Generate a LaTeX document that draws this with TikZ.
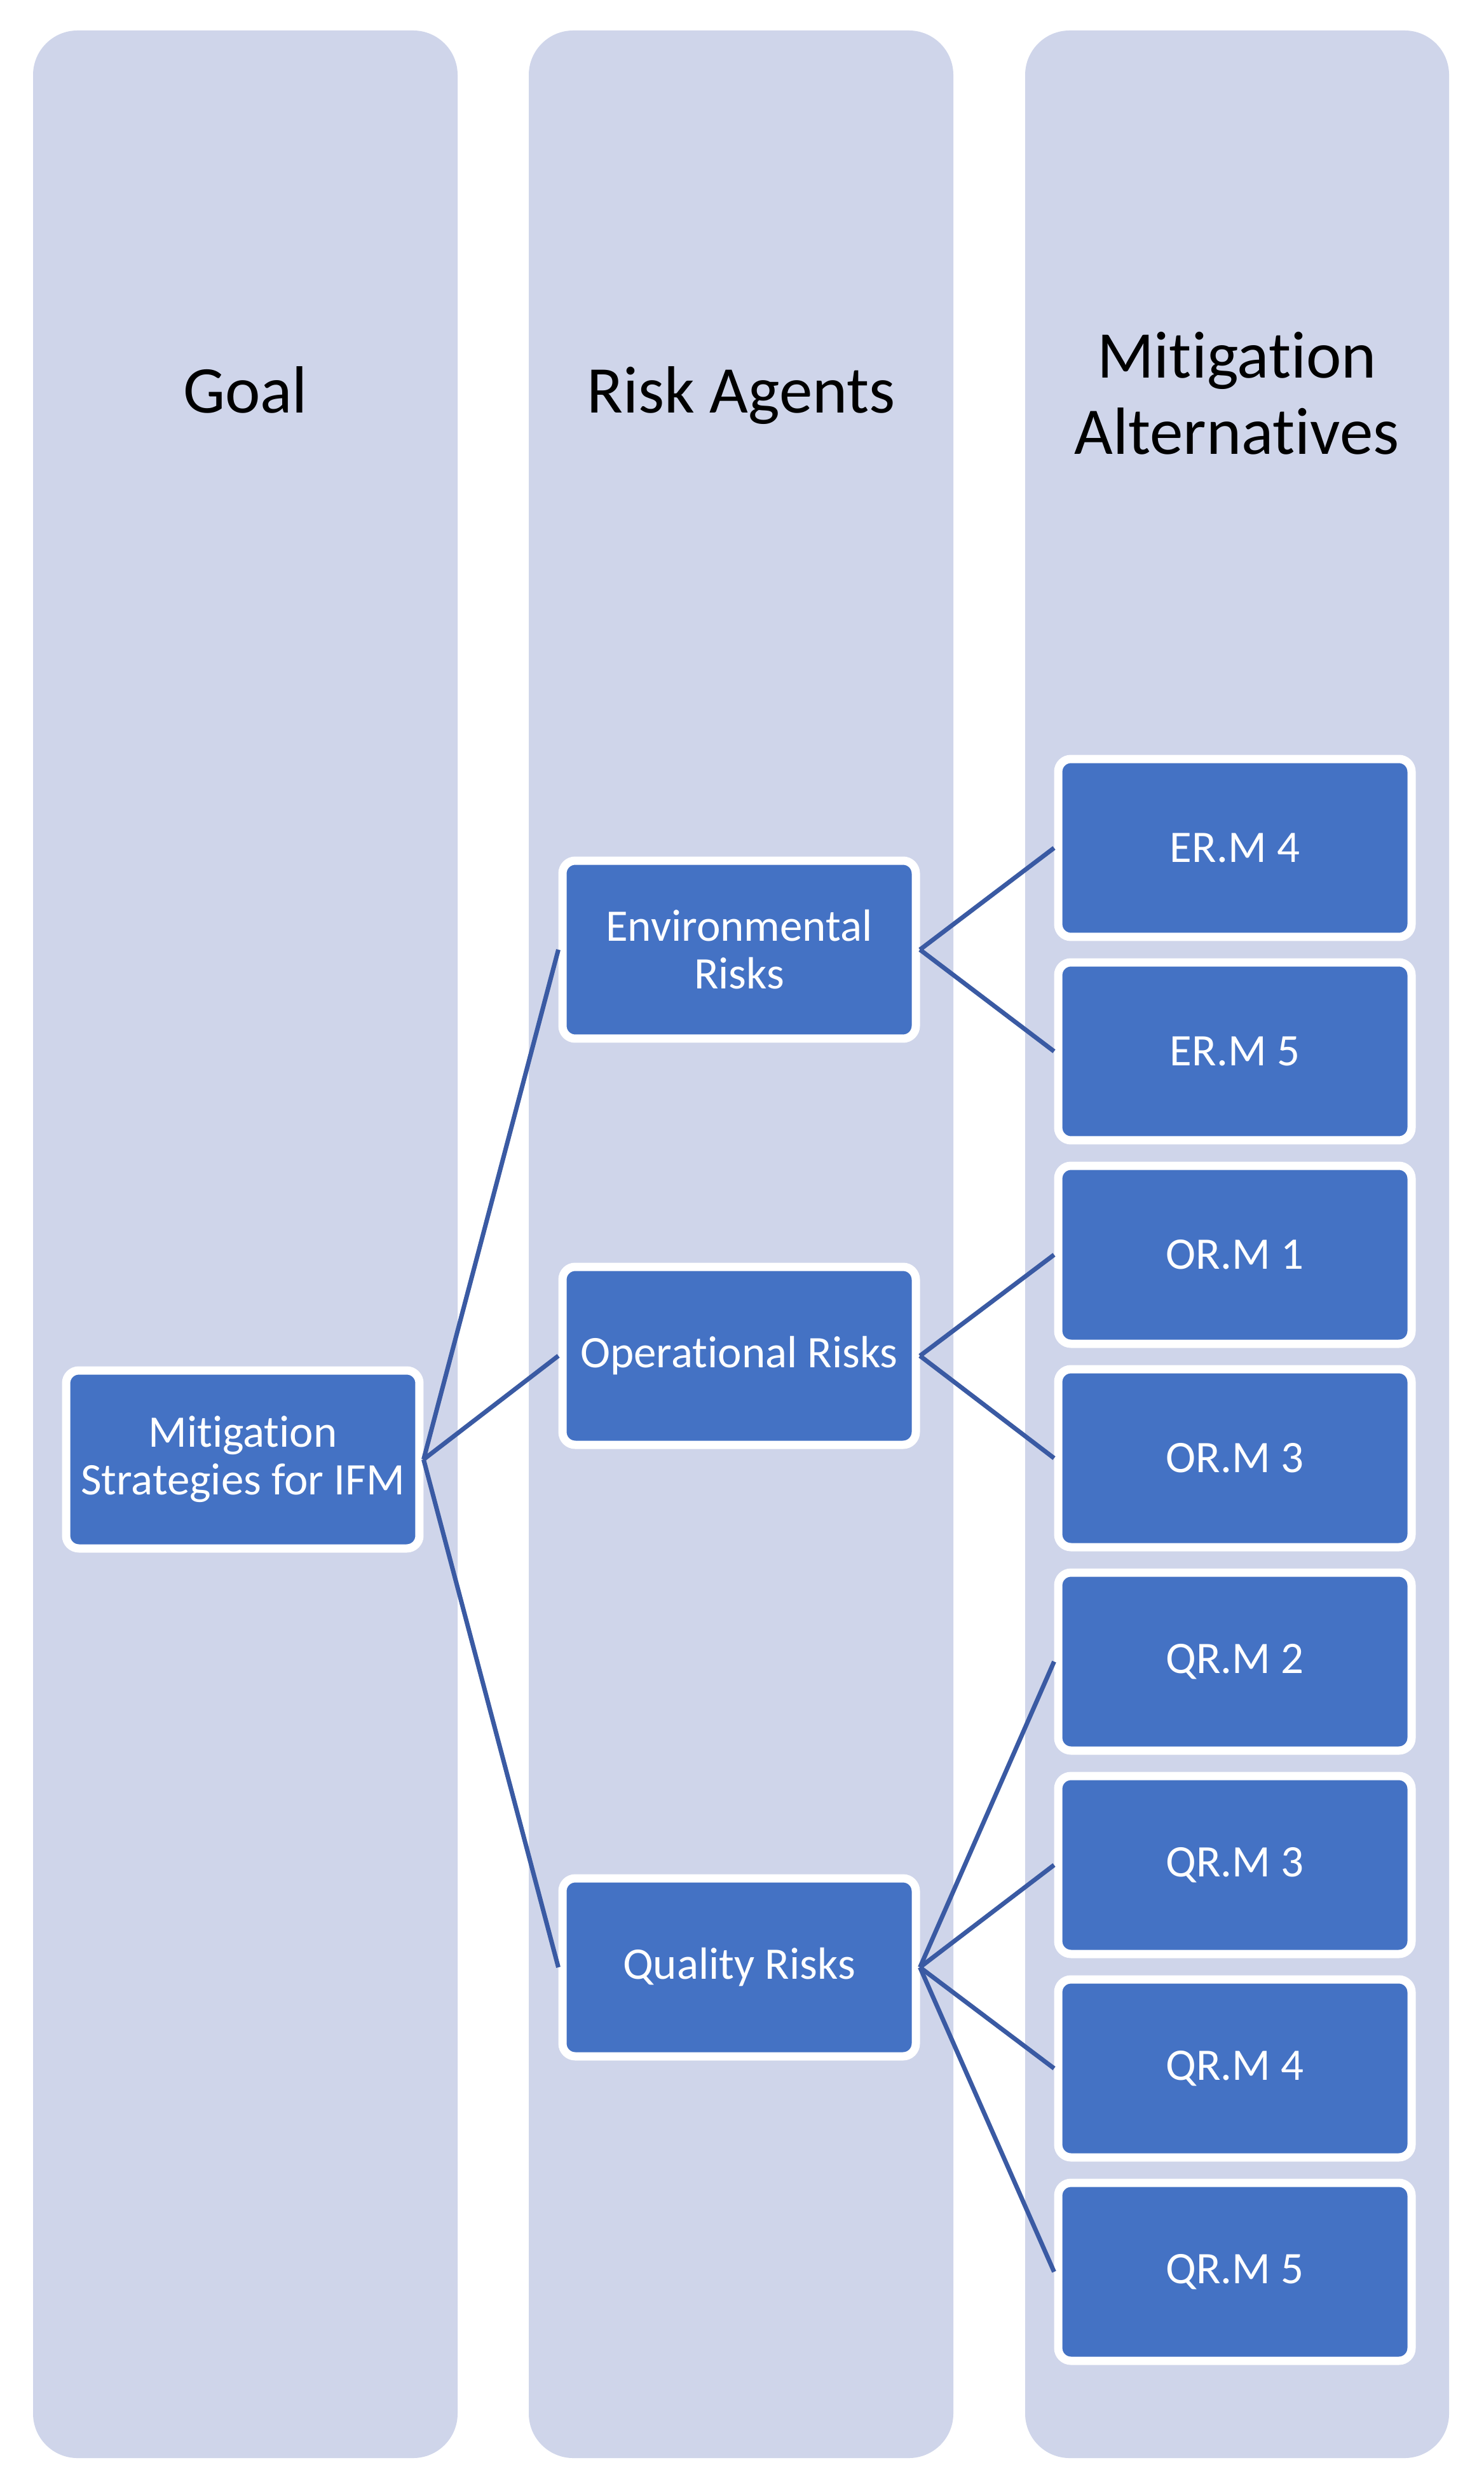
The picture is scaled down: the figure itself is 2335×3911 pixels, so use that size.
\documentclass[tikz,border=0pt]{standalone}
\usepackage{fontspec}
\setmainfont{Carlito}[Ligatures={NoCommon,NoContextual}, RawFeature={-liga;-clig;-dlig}]
\definecolor{colbg}{HTML}{CFD5EA}
\definecolor{boxblue}{HTML}{4472C4}
\definecolor{linkblue}{HTML}{3A5AA3}
\begin{document}
\begin{tikzpicture}[x=0.1pt,y=-0.1pt,
  lane/.style={fill=colbg, rounded corners=7pt},
  box/.style={draw=white, line width=1.3pt, fill=boxblue, rounded corners=2pt,
    minimum width=55.6pt, minimum height=28pt, inner sep=0pt, text=white,
    align=center, font=\fontsize{7.1}{7.5}\selectfont},
  coltitle/.style={align=center, font=\fontsize{10.5}{12}\selectfont, text=black},
  link/.style={draw=linkblue, line width=0.7pt}]
\useasboundingbox (0,0) rectangle (2335,3911);
\fill[white] (0,0) rectangle (2335,3911);
% columns
\fill[lane] (52,48) rectangle (720,3867);
\fill[lane] (832,48) rectangle (1500,3867);
\fill[lane] (1613,48) rectangle (2280,3867);
% titles
\node[coltitle, anchor=base] (tgoal) at (386,650) {Goal};
\node[coltitle, anchor=base] (tagents) at (1166,650) {Risk Agents};
\node[coltitle] (talt) at (1946,619) {Mitigation\\Alternatives};
% nodes
\node[box] (goal) at (382,2296) {Mitigation\\Strategies for IFM};
\node[box] (env) at (1163,1494) {Environmental\\Risks};
\node[box] (op) at (1163,2133) {Operational Risks};
\node[box] (qual) at (1163,3095) {Quality Risks};
\node[box] (erm4) at (1943,1334) {ER.M 4};
\node[box] (erm5) at (1943,1654) {ER.M 5};
\node[box] (orm1) at (1943,1974) {OR.M 1};
\node[box] (orm3) at (1943,2294) {OR.M 3};
\node[box] (qrm2) at (1943,2614) {QR.M 2};
\node[box] (qrm3) at (1943,2934) {QR.M 3};
\node[box] (qrm4) at (1943,3254) {QR.M 4};
\node[box] (qrm5) at (1943,3574) {QR.M 5};
% connectors
\draw[link] (goal.east) -- (env.west);
\draw[link] (goal.east) -- (op.west);
\draw[link] (goal.east) -- (qual.west);
\draw[link] (env.east) -- (erm4.west);
\draw[link] (env.east) -- (erm5.west);
\draw[link] (op.east) -- (orm1.west);
\draw[link] (op.east) -- (orm3.west);
\draw[link] (qual.east) -- (qrm2.west);
\draw[link] (qual.east) -- (qrm3.west);
\draw[link] (qual.east) -- (qrm4.west);
\draw[link] (qual.east) -- (qrm5.west);
\end{tikzpicture}
\end{document}
